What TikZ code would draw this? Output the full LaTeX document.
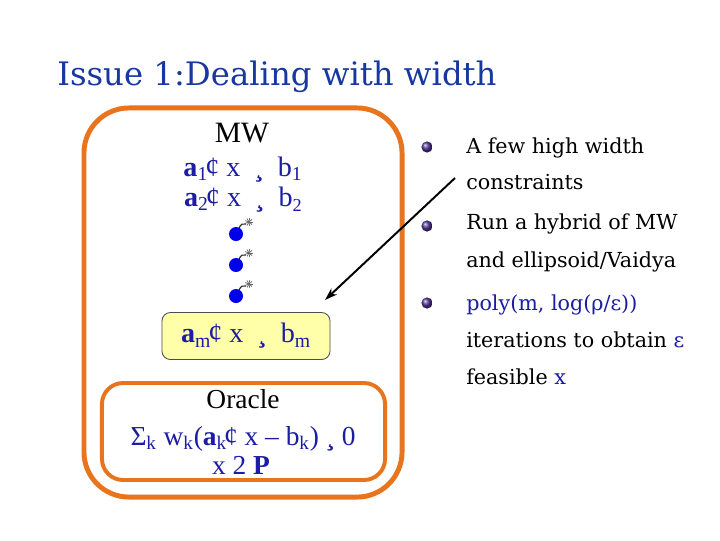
\documentclass[tikz,border=0pt]{standalone}
\usepackage{fontspec}
\setmainfont{Liberation Serif}
\newfontfamily\geofont{DejaVu Serif}
\usepackage{xcolor}
\usetikzlibrary{arrows.meta, positioning, shapes.geometric}

\definecolor{titleblue}{RGB}{24,56,160}
\definecolor{mathblue}{RGB}{28,28,165}
\definecolor{boxorange}{RGB}{232,116,30}
\definecolor{noteyellow}{RGB}{255,255,170}
\definecolor{dotpurple}{RGB}{80,50,150}
\definecolor{bombblue}{RGB}{0,0,235}

\begin{document}
\begin{tikzpicture}[
    x=0.025cm, y=-0.025cm,
    outerbox/.style={rectangle, draw=boxorange, line width=3.5pt, rounded corners=32pt,
                     minimum width=7.95cm, minimum height=9.725cm},
    oraclebox/.style={rectangle, draw=boxorange, line width=2.8pt, rounded corners=15pt,
                      minimum width=7.075cm, minimum height=2.425cm},
    rowbox/.style={rectangle, rounded corners=6pt, draw=black!70, line width=0.6pt,
                   fill=noteyellow, minimum width=4.2cm, minimum height=1.175cm,
                   font=\fontsize{20}{22}\selectfont, text=mathblue},
    titletext/.style={font=\geofont\fontsize{23}{26}\selectfont, text=titleblue, inner sep=0pt},
    mwtext/.style={font=\fontsize{21}{24}\selectfont, inner sep=0pt},
    blutext/.style={font=\fontsize{20}{22}\selectfont, text=mathblue, inner sep=0pt},
    oratext/.style={font=\fontsize{19.5}{22}\selectfont, inner sep=0pt},
    notetext/.style={font=\geofont\fontsize{14.7}{26}\selectfont, anchor=base west, inner sep=0pt},
    bulletdot/.style={circle, shading=ball, ball color=dotpurple, minimum size=0.28cm, inner sep=0pt},
    widtharrow/.style={-{Stealth[length=9pt, width=6pt]}, line width=1.4pt},
    bomb/.pic={
        \fill[bombblue] (0,0) circle (7);
        \draw[black!85, line width=0.8pt] (3,-6) .. controls (5,-10) and (7,-11) .. (10,-10);
        \foreach \a in {0,40,...,320}
            \draw[black!60, line width=0.5pt] (13,-12) -- ++(\a:4);
    }
]
\useasboundingbox (0,0) rectangle (720,540);
\fill[white] (0,0) rectangle (720,540);

% Title
\node[titletext, anchor=base west] (title) at (57,85) {Issue 1:Dealing with width};

% MW column
\node[outerbox] (mwbox) at (243,302.5) {};
\node[mwtext, anchor=base] (mw) at (242,142) {MW};
\node[blutext, anchor=base] (rowA) at (243,176)
    {\textbf{a}\textsubscript{1}\kern-2pt¢ x \ \textbf{¸} \ b\textsubscript{1}};
\node[blutext, anchor=base] (rowB) at (243,206)
    {\textbf{a}\textsubscript{2}\kern-2pt¢ x \ \textbf{¸} \ b\raisebox{-4pt}{\fontsize{13}{15}\selectfont 2}};
\pic at (236,234) {bomb};
\pic at (236,265) {bomb};
\pic at (236,296) {bomb};
\node[rowbox] (rowM) at (246,336)
    {\textbf{a}\textsubscript{m}\kern-2pt¢ x \ \textbf{¸} \ b\textsubscript{m}};

% Oracle
\node[oraclebox] (oraclebox) at (243.5,431.5) {};
\node[oratext, anchor=base] (oracle) at (243,408) {Oracle};
\node[oratext, text=mathblue, anchor=base] (oracleSum) at (243,445)
    {Σ\textsubscript{k} w\textsubscript{k}(\textbf{a}\textsubscript{k}\kern-2pt¢ x – b\textsubscript{k}) \textbf{¸} 0};
\node[oratext, text=mathblue, anchor=base] (oracleSet) at (241,474) {x 2 \textbf{P}};

% Notes on the right
\node[bulletdot] (dotA) at (427,147) {};
\node[bulletdot] (dotB) at (427,226) {};
\node[bulletdot] (dotC) at (427,303) {};
\node[notetext] (noteA1) at (466,153) {A few high width};
\node[notetext] (noteA2) at (466,189) {constraints};
\node[notetext] (noteB1) at (466,229) {Run a hybrid of MW};
\node[notetext] (noteB2) at (466,267) {and ellipsoid/Vaidya};
\node[notetext, text=mathblue] (noteC1) at (466,310) {poly(m, log(ρ/ε))};
\node[notetext] (noteC2) at (466,347) {iterations to obtain \textcolor{mathblue}{ε}};
\node[notetext] (noteC3) at (466,384) {feasible \textcolor{mathblue}{x}};

% Arrow
\coordinate (arrowfrom) at (455,178);
\coordinate (arrowtip) at (325,300);
\draw[widtharrow] (arrowfrom) -- (arrowtip);

\end{tikzpicture}
\end{document}
